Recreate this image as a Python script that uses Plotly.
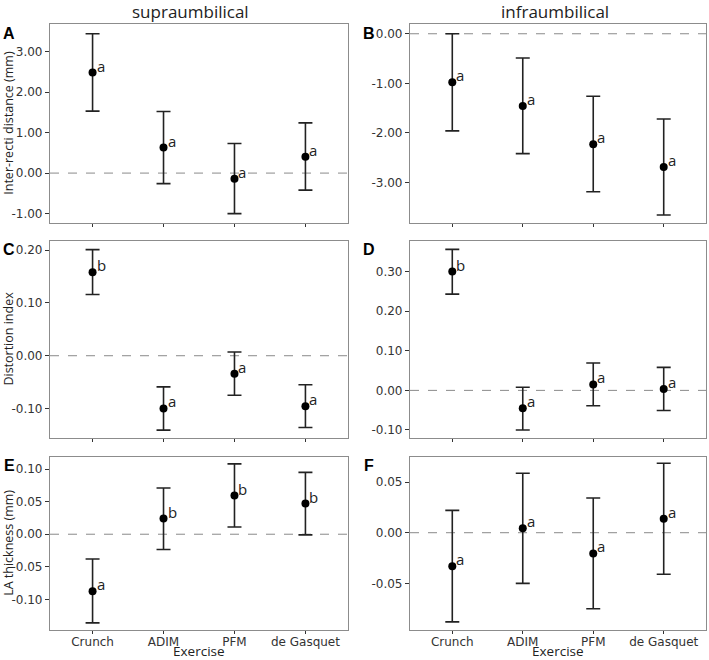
import plotly.graph_objects as go

W, H = 709, 660

exercises = ["Crunch", "ADIM", "PFM", "de Gasquet"]
columns = ["supraumbilical", "infraumbilical"]
y_titles = ["Inter-recti distance (mm)", "Distortion index", "LA thickness (mm)"]
panel_labels = ["A", "B", "C", "D", "E", "F"]

# Panel A: supraumbilical inter-recti distance
A_mean = [2.48, 0.63, -0.14, 0.40]
A_upper = [3.44, 1.52, 0.73, 1.24]
A_lower = [1.53, -0.26, -1.00, -0.42]
A_group = ["a", "a", "a", "a"]
A_ticks = [-1.0, 0.0, 1.0, 2.0, 3.0]

# Panel B: infraumbilical inter-recti distance
B_mean = [-0.98, -1.46, -2.23, -2.69]
B_upper = [0.00, -0.49, -1.26, -1.72]
B_lower = [-1.96, -2.42, -3.19, -3.66]
B_group = ["a", "a", "a", "a"]
B_ticks = [-3.0, -2.0, -1.0, 0.0]

# Panel C: supraumbilical distortion index
C_mean = [0.158, -0.100, -0.034, -0.096]
C_upper = [0.201, -0.059, 0.007, -0.055]
C_lower = [0.116, -0.141, -0.075, -0.136]
C_group = ["b", "a", "a", "a"]
C_ticks = [-0.1, 0.0, 0.1, 0.2]

# Panel D: infraumbilical distortion index
D_mean = [0.300, -0.045, 0.015, 0.0035]
D_upper = [0.356, 0.008, 0.069, 0.058]
D_lower = [0.243, -0.100, -0.039, -0.051]
D_group = ["b", "a", "a", "a"]
D_ticks = [-0.1, 0.0, 0.1, 0.2, 0.3]

# Panel E: supraumbilical LA thickness
E_mean = [-0.0876, 0.024, 0.0594, 0.047]
E_upper = [-0.038, 0.071, 0.108, 0.095]
E_lower = [-0.136, -0.0235, 0.011, -0.001]
E_group = ["a", "b", "b", "b"]
E_ticks = [-0.1, -0.05, 0.0, 0.05, 0.1]

# Panel F: infraumbilical LA thickness
F_mean = [-0.033, 0.0043, -0.0204, 0.0138]
F_upper = [0.022, 0.0586, 0.0342, 0.0685]
F_lower = [-0.088, -0.050, -0.075, -0.041]
F_group = ["a", "a", "a", "a"]
F_ticks = [-0.05, 0.0, 0.05]

panels = [
    (A_mean, A_upper, A_lower, A_group, A_ticks, [-1.22, 3.68]),
    (B_mean, B_upper, B_lower, B_group, B_ticks, [-3.81, 0.197]),
    (C_mean, C_upper, C_lower, C_group, C_ticks, [-0.155, 0.218]),
    (D_mean, D_upper, D_lower, D_group, D_ticks, [-0.119, 0.378]),
    (E_mean, E_upper, E_lower, E_group, E_ticks, [-0.147, 0.119]),
    (F_mean, F_upper, F_lower, F_group, F_ticks, [-0.096, 0.075]),
]

# layout in pixels
col_px = [(50, 348), (410, 706)]
row_px = [(24, 222.5), (240.7, 437.5), (456.7, 630)]

def xd(a, b):
    return [a / W, b / W]

def yd(a, b):
    return [1 - b / H, 1 - a / H]

fig = go.Figure()
layout = dict(
    width=W, height=H,
    margin=dict(l=0, r=0, t=0, b=0),
    paper_bgcolor="white", plot_bgcolor="white",
    showlegend=False,
    annotations=[], shapes=[],
)

tick_font = dict(family="DejaVu Sans", size=12, color="#333333")
text_font = dict(family="Open Sans", size=12.5, color="#222222")

for i, (mean, upper, lower, grp, ticks, yr) in enumerate(panels):
    r, c = divmod(i, 2)
    n = i + 1
    xa = "x" if n == 1 else f"x{n}"
    ya = "y" if n == 1 else f"y{n}"
    fig.add_trace(go.Scatter(
        x=list(range(len(exercises))), y=mean,
        mode="markers",
        marker=dict(color="black", size=8),
        error_y=dict(type="data", symmetric=False,
                     array=[u - m for u, m in zip(upper, mean)],
                     arrayminus=[m - l for m, l in zip(mean, lower)],
                     color="#222222", thickness=1.6, width=7),
        xaxis=xa, yaxis=ya, hoverinfo="skip",
    ))
    bottom = (r == 2)
    layout[f"xaxis{n if n > 1 else ''}"] = dict(
        domain=xd(*col_px[c]), range=[-0.6, 3.6], anchor=ya,
        tickmode="array", tickvals=list(range(len(exercises))),
        ticktext=exercises if bottom else [""] * len(exercises),
        showticklabels=bottom, ticklabelstandoff=-3,
        ticks="outside", ticklen=3, tickcolor="#333333", tickwidth=1,
        showline=True, mirror=True, linecolor="#8c8c8c", linewidth=1.2,
        showgrid=False, zeroline=False, tickfont=tick_font, fixedrange=True,
    )
    layout[f"yaxis{n if n > 1 else ''}"] = dict(
        domain=yd(*row_px[r]), range=yr, anchor=xa,
        tickmode="array", tickvals=ticks, ticktext=[f"{v:.2f}" for v in ticks],
        ticks="outside", ticklen=4, tickcolor="#333333", tickwidth=1,
        showline=True, mirror=True, linecolor="#8c8c8c", linewidth=1.2,
        showgrid=False, zeroline=False, tickfont=tick_font, fixedrange=True,
    )
    # zero reference line
    layout["shapes"].append(dict(
        type="line", xref=f"{xa} domain", yref=ya, x0=0, x1=1, y0=0, y1=0,
        line=dict(color="#8a8a8a", width=1, dash="dash"), layer="below",
    ))
    # group letters
    for k, g in enumerate(grp):
        layout["annotations"].append(dict(
            x=k, y=mean[k], xref=xa, yref=ya, text=g, showarrow=False,
            xanchor="left", yanchor="middle", xshift=2, yshift=7,
            font=dict(family="Open Sans", size=15, color="#222222"),
        ))
    # panel label
    lx = 9 if c == 0 else 369
    ly = row_px[r][0] + 9
    layout["annotations"].append(dict(
        x=lx / W, y=1 - ly / H, xref="paper", yref="paper", text=f"<b>{panel_labels[i]}</b>",
        showarrow=False, xanchor="center", yanchor="middle",
        font=dict(family="Liberation Sans", size=16, color="black"),
    ))

# column headers
for c, name in enumerate(columns):
    cx = 190 if c == 0 else 555
    layout["annotations"].append(dict(
        x=cx / W, y=1 - 11 / H, xref="paper", yref="paper", text=name,
        showarrow=False, xanchor="center", yanchor="middle",
        font=dict(family="Open Sans", size=17, color="#222222"),
    ))

# y-axis titles
for r, t in enumerate(y_titles):
    cy = (row_px[r][0] + row_px[r][1]) / 2
    layout["annotations"].append(dict(
        x=8.5 / W, y=1 - cy / H, xref="paper", yref="paper", text=t,
        showarrow=False, textangle=-90, xanchor="center", yanchor="middle",
        font=text_font, borderpad=0,
    ))

# x-axis titles
for c in range(2):
    cx = (col_px[c][0] + col_px[c][1]) / 2
    layout["annotations"].append(dict(
        x=cx / W, y=1 - 651 / H, xref="paper", yref="paper", text="Exercise",
        showarrow=False, xanchor="center", yanchor="middle",
        font=dict(family="Open Sans", size=13.5, color="#222222"), borderpad=0,
    ))

fig.update_layout(**layout)
fig.write_html("out.html")
